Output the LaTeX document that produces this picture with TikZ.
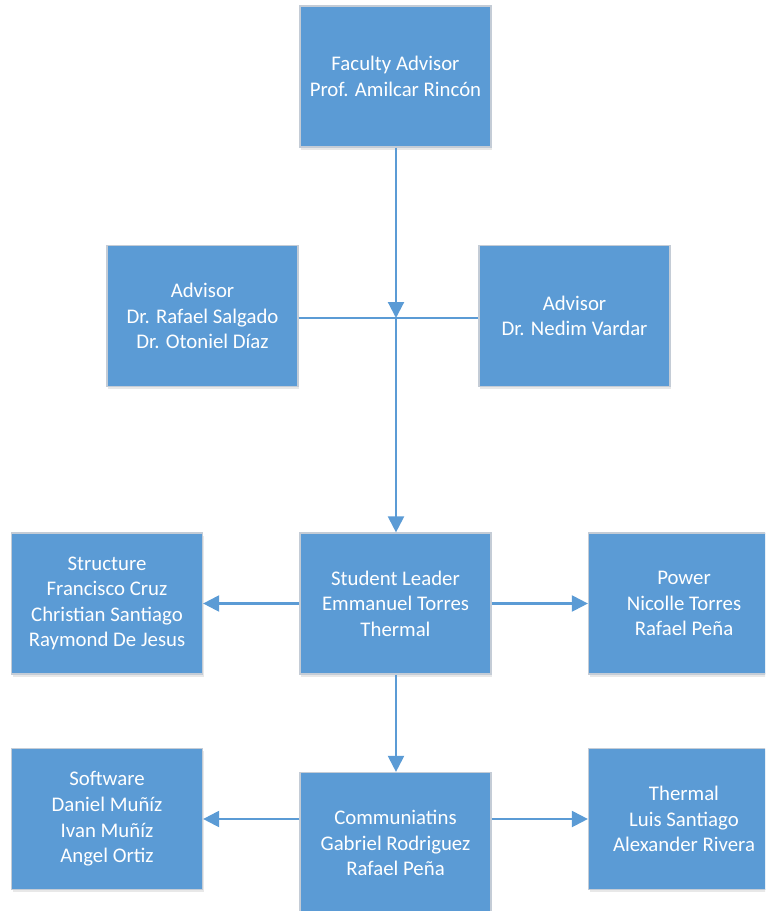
\documentclass[tikz,border=0pt]{standalone}
\usepackage{fontspec}
\setmainfont{Carlito}
\usetikzlibrary{arrows.meta,shadows}
\definecolor{boxblue}{HTML}{5B9BD5}
\definecolor{boxedge}{HTML}{C4CCD6}
\begin{document}
\begin{tikzpicture}[x=0.75pt,y=-0.75pt,
  box/.style={draw=boxedge, line width=0.9pt, fill=boxblue, minimum width=143.25pt,
    minimum height=105.75pt, inner sep=0pt, text=white, align=center,
    font=\fontsize{15.6}{19.2}\selectfont,
    drop shadow={shadow xshift=1pt, shadow yshift=-2pt, opacity=0.18, fill=gray}},
  conn/.style={draw=boxblue, line width=1.6pt},
  arr/.style={-{Triangle[width=12pt,length=12pt]}}]
\useasboundingbox (0,0) rectangle (765,911);
\clip (0,0) rectangle (765,911);
\node[box] (fac) at (395.5,76.5) {Faculty Advisor\\Prof. Amilcar Rincón};
\node[box] (advL) at (202.5,316) {Advisor\\Dr. Rafael Salgado\\Dr. Otoniel Díaz};
\node[box] (advR) at (574.5,316) {Advisor\\Dr. Nedim Vardar};
\node[box] (lead) at (395.5,603.5) {Student Leader\\Emmanuel Torres\\Thermal};
\node[box] (struct) at (107,603.5) {Structure\\Francisco Cruz\\Christian Santiago\\Raymond De Jesus};
\node[box] (power) at (684,603.5) {Power\\Nicolle Torres\\Rafael Peña};
\node[box] (comm) at (395.5,843) {Communiatins\\Gabriel Rodriguez\\Rafael Peña};
\node[box] (soft) at (107,819) {Software\\Daniel Muñíz\\Ivan Muñíz\\Angel Ortiz};
\node[box] (therm) at (684,819) {Thermal\\Luis Santiago\\Alexander Rivera};
\coordinate (j) at (396,318);
\draw[conn,arr] (fac.south -| j) -- (j);
\draw[conn] (advL.east |- j) -- (advR.west |- j);
\draw[conn,arr] (j) -- (lead.north -| j);
\draw[conn,arr] (lead.west) -- (struct.east);
\draw[conn,arr] (lead.east) -- (power.west);
\draw[conn,arr] (lead.south -| j) -- (comm.north -| j);
\draw[conn,arr] (comm.west |- soft.east) -- (soft.east);
\draw[conn,arr] (comm.east |- therm.west) -- (therm.west);
\end{tikzpicture}
\end{document}
